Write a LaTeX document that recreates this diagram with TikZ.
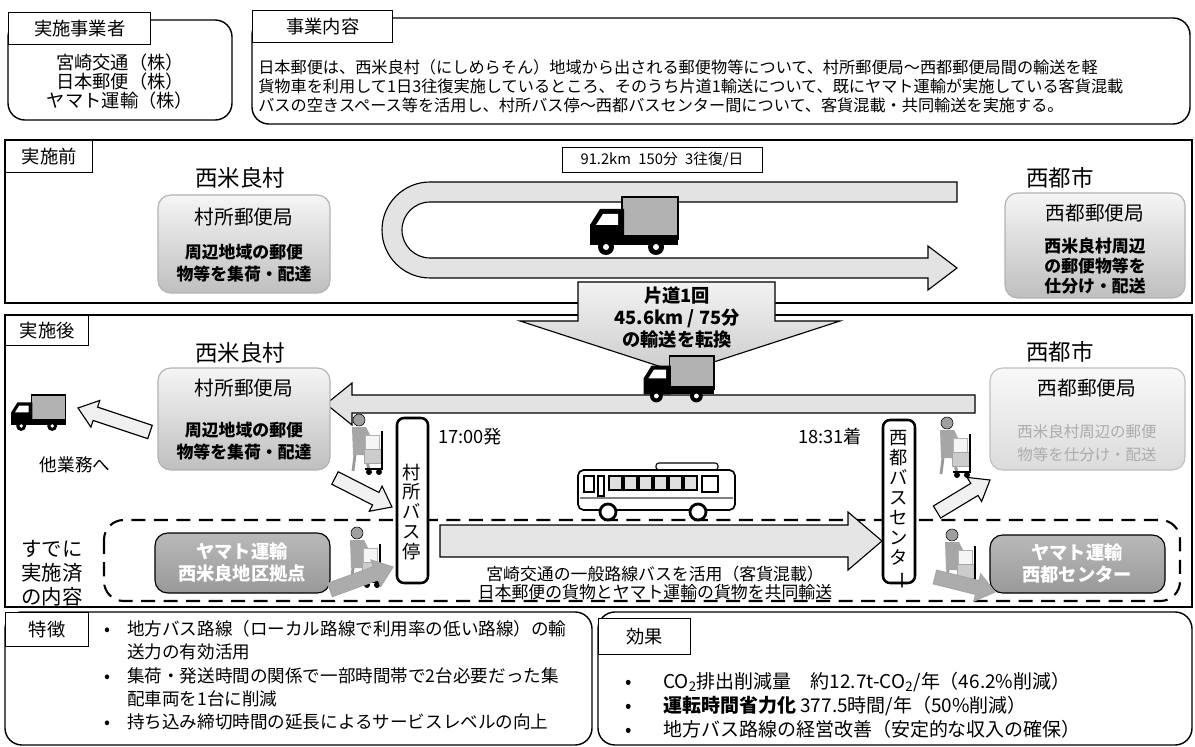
\documentclass[tikz,border=0pt]{standalone}
\usepackage{fontspec}
\setmainfont{Noto Sans CJK JP}
\usepackage{graphicx}
\usepackage{tikz}
\usetikzlibrary{calc}

% flat block arrow from tail #2 to tip #3
\newcommand{\slimarrow}[3]{%
  \path ($(#3)!13pt!(#2)$) coordinate (hb);
  \draw[#1] ($(#2)!5pt!90:(#3)$) -- ($(hb)!5pt!-90:(#2)$) -- ($(hb)!10pt!-90:(#2)$) -- (#3)
    -- ($(hb)!10pt!90:(#2)$) -- ($(hb)!5pt!90:(#2)$) -- ($(#2)!5pt!-90:(#3)$) -- cycle;}

\tikzset{
  pics/truck/.style={code={
    \draw[thick, fill=gray!60] (34,0) rectangle (90,42);
    \fill (2,38) rectangle (90,48);
    \fill (2,48) -- (2,28) -- (12,12) -- (36,12) -- (36,48) -- cycle;
    \fill[white] (8,28) -- (15,17) -- (30,17) -- (30,28) -- cycle;
    \foreach \wx in {18,68} {\fill (\wx,50) circle[radius=8]; \fill[white] (\wx,50) circle[radius=3];}
  }},
  pics/bus/.style={code={
    \draw[thick, fill=white, rounded corners=2pt] (78,1) rectangle (140,8);
    \draw[very thick, fill=white, rounded corners=4pt] (0,8) rectangle (157,48);
    \draw[thick] (6,14) rectangle (16,30);
    \draw[thick] (20,14) rectangle (26,34);
    \foreach \k in {0,...,5} {\draw[thick, fill=gray!25] (31+\k*15,14) rectangle (44+\k*15,28);}
    \draw[thick] (124,14) rectangle (140,30);
    \draw[gray, thick] (2,36) -- (155,36);
    \foreach \wx in {30,120} {\draw[line width=2pt, fill=white] (\wx,50) circle[radius=8];}
  }},
  pics/worker/.style={code={
    \draw[fill=gray!75] (14,7) circle[radius=6];
    \fill[gray!70] (7,14) -- (21,14) -- (27,26) -- (24,30) -- (22,42) -- (8,42) -- cycle;
    \draw[line width=2pt, gray!80] (10,42) -- (8,58) (20,42) -- (24,56);
    \draw[gray!60, fill=gray!8] (20,22) rectangle (34,36);
    \draw[gray!70, fill=gray!40] (19,36) rectangle (36,50);
    \draw[thick] (37,18) -- (37,56) -- (20,56);
    \fill (24,59) circle[radius=3] (34,59) circle[radius=3];
  }}
}

\begin{document}
\begin{tikzpicture}[x=0.025cm, y=-0.025cm,
  frame/.style={draw, line width=1pt},
  hdr/.style={draw, line width=1pt, fill=white, anchor=north west, inner sep=0pt, font=\fontsize{13}{14}\selectfont},
  roundbox/.style={draw, line width=1pt, rounded corners=12pt},
  postbox/.style={draw=gray!60, thick, rounded corners=9pt, top color=gray!8, bottom color=gray!50},
  postlite/.style={draw=gray!50, thick, rounded corners=9pt, top color=gray!5, bottom color=gray!28},
  yamato/.style={draw, thick, rounded corners=9pt, top color=gray!55, bottom color=gray!80},
  stopbox/.style={draw, line width=1.8pt, fill=white, rounded corners=5pt},
  band/.style={draw, thick, fill=gray!22},
  lightarr/.style={draw, thick, fill=gray!12},
  darkarr/.style={draw=gray!70, thick, fill=gray!65},
  town/.style={font=\fontsize{16}{18}\selectfont},
  ptitle/.style={font=\fontsize{14}{16}\selectfont},
  psub/.style={align=center, font=\bfseries\fontsize{12}{15.6}\selectfont}]

\useasboundingbox (0,0) rectangle (1195,747);

% operators and outline
\draw[roundbox] (8,20) rectangle (232,120);
\node[hdr, minimum width=3.55cm, minimum height=0.8cm] (OpsH) at (8,12) {実施事業者};
\node[align=center, font=\fontsize{13}{13.5}\selectfont] (Ops) at (120,82) {宮崎交通（株）\\日本郵便（株）\\ヤマト運輸（株）};

\draw[roundbox] (252,18) rectangle (1190,124);
\node[hdr, minimum width=3.5cm, minimum height=0.8cm] (PlanH) at (252,10) {事業内容};
\node[anchor=west, align=left, inner sep=0pt, font=\fontsize{11.5}{13.5}\selectfont] (Plan) at (258,86)
  {日本郵便は、西米良村（にしめらそん）地域から出される郵便物等について、村所郵便局～西都郵便局間の輸送を軽\\
   貨物車を利用して1日3往復実施しているところ、そのうち片道1輸送について、既にヤマト運輸が実施している客貨混載\\
   バスの空きスペース等を活用し、村所バス停～西都バスセンター間について、客貨混載・共同輸送を実施する。};

% before
\draw[frame] (5,140) rectangle (1192,303);
\node[hdr, minimum width=2.175cm, minimum height=0.8cm] (BefH) at (5,140) {実施前};
\node[town] (V1) at (240,178) {西米良村};
\node[town] (C1) at (1060,178) {西都市};

\draw[postbox] (158,195) rectangle (330,293);
\node[ptitle] (P1) at (244,217) {村所郵便局};
\node[psub] (P1s) at (244,263) {周辺地域の郵便\\物等を集荷・配達};

\draw[postbox] (1005,193) rectangle (1185,298);
\node[ptitle] (Q1) at (1095,213) {西都郵便局};
\node[psub, font=\bfseries\fontsize{12}{14.2}\selectfont] (Q1s) at (1095,266) {西米良村周辺\\の郵便物等を\\仕分け・配送};

\draw[band] (957,182) -- (430,182) arc[start angle=90, end angle=270, radius=34.13pt]
  -- (928,278) -- (928,290) -- (957,268) -- (928,246) -- (928,258) -- (430,258)
  arc[start angle=270, end angle=90, radius=19.91pt] -- (957,202) -- cycle;
\pic (T1) at (588,197) {truck};
\node[draw, fill=white, minimum width=5cm, minimum height=0.6cm, font=\fontsize{10.5}{11}\selectfont] (Dist) at (662,160) {91.2km\enspace 150分\enspace 3往復/日};

% after
\draw[frame] (5,315) rectangle (1192,607);
\node[hdr, minimum width=2.075cm, minimum height=0.75cm] (AftH) at (5,315) {実施後};

\draw[band, top color=gray!10, bottom color=gray!40] (578,282) -- (775,282) -- (775,321) -- (840,321) -- (680,373) -- (520,321) -- (578,321) -- cycle;
\node[align=center, font=\bfseries\fontsize{13}{15.6}\selectfont] (Shift) at (677,318) {片道1回\\45.6km / 75分\\の輸送を転換};

\node[town] (V2) at (240,353) {西米良村};
\node[town] (C2) at (1060,352) {西都市};

\draw[band] (975,395) -- (352,395) -- (352,383) -- (326,404) -- (352,425) -- (352,413) -- (975,413) -- cycle;
\pic[scale=0.8] (T2) at (642,356) {truck};

\draw[postbox] (158,368) rectangle (330,470);
\node[ptitle] (P2) at (244,388) {村所郵便局};
\node[psub] (P2s) at (244,441) {周辺地域の郵便\\物等を集荷・配達};

\draw[postlite] (990,368) rectangle (1185,470);
\node[ptitle] (Q2) at (1087,388) {西都郵便局};
\node[align=center, text=gray!65, font=\fontsize{11}{16}\selectfont] (Q2s) at (1087,443) {西米良村周辺の郵便\\物等を仕分け・配送};

\pic[scale=0.62] (T3) at (10,395) {truck};
\node[font=\fontsize{12.5}{14}\selectfont] (Other) at (75,465) {他業務へ};
\coordinate (a1t) at (150,432);
\coordinate (a1h) at (78,408);
\slimarrow{lightarr}{a1t}{a1h}

% bus run
\draw[line width=1.5pt, dashed, dash pattern=on 10pt off 6pt, rounded corners=14pt] (104,520) rectangle (1180,601);
\node[align=center, font=\fontsize{14.5}{17}\selectfont] (Done) at (52,573) {すでに\\実施済\\の内容};

\draw[lightarr, fill=gray!20] (440,525) -- (848,525) -- (848,512) -- (882,541) -- (848,570) -- (848,557) -- (440,557) -- cycle;
\node[align=center, font=\fontsize{12}{12.5}\selectfont] (Mix) at (655,583) {宮崎交通の一般路線バスを活用（客貨混載）\\日本郵便の貨物とヤマト運輸の貨物を共同輸送};

\pic (Bus) at (578,462) {bus};
\node[font=\fontsize{13}{14}\selectfont] (Dep) at (470,437) {17:00発};
\node[font=\fontsize{13}{14}\selectfont] (Arr) at (830,437) {18:31着};

\draw[stopbox] (397,418) rectangle (428,583);
\node[align=center, inner sep=0pt, font=\fontsize{13}{14.2}\selectfont] (S1) at (412,512) {村\\所\\バ\\ス\\停};
\draw[stopbox] (883,420) rectangle (915,583);
\node[align=center, inner sep=0pt, font=\fontsize{13}{14.2}\selectfont] (S2) at (899,510) {西\\都\\バ\\ス\\セ\\ン\\タ\\\rotatebox[origin=c]{-90}{ー}};

\draw[yamato] (155,533) rectangle (330,593);
\node[align=center, text=white, font=\bfseries\fontsize{13}{15.6}\selectfont] (Y1) at (242,563) {ヤマト運輸\\西米良地区拠点};
\draw[yamato] (990,535) rectangle (1165,593);
\node[align=center, text=white, font=\bfseries\fontsize{13}{15.6}\selectfont] (Y2) at (1077,564) {ヤマト運輸\\西都センター};

\pic (W1) at (345,413) {worker};
\pic (W2) at (343,526) {worker};
\pic (W3) at (933,416) {worker};
\pic (W4) at (938,528) {worker};

\coordinate (a2t) at (335,478);
\coordinate (a2h) at (392,507);
\slimarrow{lightarr}{a2t}{a2h}
\coordinate (a3t) at (330,590);
\coordinate (a3h) at (393,567);
\slimarrow{darkarr}{a3t}{a3h}
\coordinate (a4t) at (937,512);
\coordinate (a4h) at (990,480);
\slimarrow{lightarr}{a4t}{a4h}
\coordinate (a5t) at (935,577);
\coordinate (a5h) at (995,592);
\slimarrow{darkarr}{a5t}{a5h}

% features and effects
\draw[roundbox] (5,612) rectangle (592,745);
\node[hdr, minimum width=2.075cm, minimum height=0.85cm] (FeatH) at (5,612) {特徴};
\node[anchor=north west, align=left, inner sep=0pt, font=\fontsize{12.5}{16.6}\selectfont] (Feat) at (104,620)
  {\makebox[1.3em][l]{•}地方バス路線（ローカル路線で利用率の低い路線）の輸\\
   \hspace*{1.3em}送力の有効活用\\
   \makebox[1.3em][l]{•}集荷・発送時間の関係で一部時間帯で2台必要だった集\\
   \hspace*{1.3em}配車両を1台に削減\\
   \makebox[1.3em][l]{•}持ち込み締切時間の延長によるサービスレベルの向上};

\draw[roundbox] (598,612) rectangle (1192,745);
\node[hdr, minimum width=2.3cm, minimum height=0.9cm] (EffH) at (598,618) {効果};
\node[anchor=north west, align=left, inner sep=0pt, font=\fontsize{13.5}{17}\selectfont] (Eff) at (625,672)
  {\makebox[2em][l]{•}CO\textsubscript{2}排出削減量\quad 約12.7t-CO\textsubscript{2}/年（46.2\%削減）\\
   \makebox[2em][l]{•}\textbf{運転時間省力化} 377.5時間/年（50\%削減）\\
   \makebox[2em][l]{•}地方バス路線の経営改善（安定的な収入の確保）};

\end{tikzpicture}
\end{document}
